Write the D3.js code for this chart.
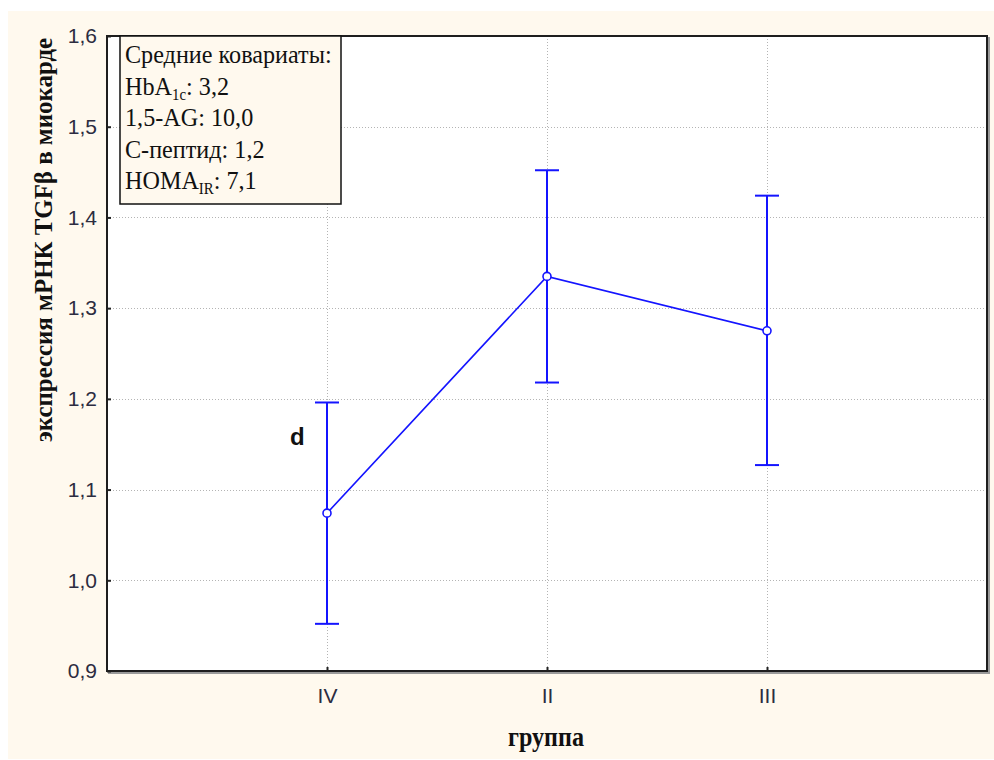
<!DOCTYPE html>
<html>
<head>
<meta charset="utf-8">
<script src="https://cdn.jsdelivr.net/npm/d3@7"></script>
<style>
  html, body { margin: 0; padding: 0; background: #ffffff; }
  svg { display: block; }
</style>
</head>
<body>
<script>
// Group means of TGFβ mRNA expression with confidence intervals
const groups = ["IV", "II", "III"];
const means = [1.074, 1.335, 1.275];
const lower = [0.952, 1.218, 1.127];
const upper = [1.196, 1.452, 1.424];
const yTicks = [0.9, 1.0, 1.1, 1.2, 1.3, 1.4, 1.5, 1.6];
const covariateTitle = "Средние ковариаты:";
const covariates = [
  { main: "HbA", sub: "1c", rest: ": 3,2" },
  { main: "1,5-AG: 10,0", sub: "", rest: "" },
  { main: "С-пептид: 1,2", sub: "", rest: "" },
  { main: "HOMA", sub: "IR", rest: ": 7,1" }
];

const W = 994, H = 760;
const plot = { left: 107, top: 36, right: 987, bottom: 671 };
const blue = "#1414ff";
const serif = "'Liberation Serif', 'Times New Roman', serif";
const sans = "'Liberation Sans', Arial, sans-serif";

const svg = d3.select("body").append("svg")
  .attr("width", W).attr("height", H);

// cream page area
svg.append("rect").attr("x", 8).attr("y", 11)
  .attr("width", W - 8).attr("height", 748).attr("fill", "#fff9ee");

const x = d3.scalePoint().domain(groups)
  .range([plot.left, plot.right]).padding(1);
const y = d3.scaleLinear().domain([0.9, 1.6])
  .range([plot.bottom, plot.top]);

// plot frame shadow + white panel
svg.append("rect")
  .attr("x", plot.left + 2).attr("y", plot.top + 2)
  .attr("width", plot.right - plot.left).attr("height", plot.bottom - plot.top)
  .attr("fill", "none").attr("stroke", "#9a9a9a").attr("stroke-width", 2);
svg.append("rect")
  .attr("x", plot.left).attr("y", plot.top)
  .attr("width", plot.right - plot.left).attr("height", plot.bottom - plot.top)
  .attr("fill", "#ffffff");

// dotted grid
const grid = svg.append("g").attr("stroke", "#b4b4b4")
  .attr("stroke-width", 1).attr("stroke-dasharray", "1,2");
grid.selectAll("line.h").data(yTicks.slice(1, -1)).join("line")
  .attr("x1", plot.left).attr("x2", plot.right)
  .attr("y1", d => Math.round(y(d)) + 0.5).attr("y2", d => Math.round(y(d)) + 0.5);
grid.selectAll("line.v").data(groups).join("line")
  .attr("y1", plot.top).attr("y2", plot.bottom)
  .attr("x1", d => Math.round(x(d)) + 0.5).attr("x2", d => Math.round(x(d)) + 0.5);

// axes with inward ticks
const yAxis = d3.axisLeft(y).tickValues(yTicks)
  .tickFormat(d => d3.format(".1f")(d).replace(".", ","))
  .tickSizeInner(-4).tickSizeOuter(0).tickPadding(10);
const gy = svg.append("g").attr("transform", `translate(${plot.left},0)`).call(yAxis);
const xAxis = d3.axisBottom(x).tickSizeInner(-4).tickSizeOuter(0).tickPadding(17);
const gx = svg.append("g").attr("transform", `translate(0,${plot.bottom})`).call(xAxis);
[gy, gx].forEach(g => {
  g.select(".domain").remove();
  g.selectAll(".tick line").attr("stroke", "#222").attr("stroke-width", 2);
  g.selectAll(".tick text")
    .attr("font-family", sans)
    .attr("font-size", 21).attr("fill", "#2c2c40");
});

// frame
svg.append("rect")
  .attr("x", plot.left).attr("y", plot.top)
  .attr("width", plot.right - plot.left).attr("height", plot.bottom - plot.top)
  .attr("fill", "none").attr("stroke", "#1e1e1e").attr("stroke-width", 2);

// connecting line
const pts = groups.map((g, i) => [x(g), y(means[i])]);
svg.append("path").attr("d", d3.line()(pts))
  .attr("fill", "none").attr("stroke", blue).attr("stroke-width", 1.6);

// error bars
const eb = svg.append("g").attr("stroke", blue).attr("stroke-width", 2);
groups.forEach((g, i) => {
  const cx = x(g);
  eb.append("line").attr("x1", cx).attr("x2", cx)
    .attr("y1", y(lower[i])).attr("y2", y(upper[i]));
  [lower[i], upper[i]].forEach(v => {
    eb.append("line").attr("x1", cx - 12).attr("x2", cx + 12)
      .attr("y1", y(v)).attr("y2", y(v));
  });
});

// mean markers
svg.selectAll("circle.m").data(groups).join("circle")
  .attr("cx", d => x(d)).attr("cy", (d, i) => y(means[i]))
  .attr("r", 4).attr("fill", "#ffffff").attr("stroke", blue).attr("stroke-width", 1.6);

// significance letter
svg.append("text").attr("x", x("IV") - 37).attr("y", 445)
  .attr("font-family", sans)
  .attr("font-weight", "bold").attr("font-size", 24).attr("fill", "#111")
  .text("d");

// covariate box
const box = svg.append("g");
box.append("rect").attr("x", 120).attr("y", 36).attr("width", 221).attr("height", 168)
  .attr("fill", "#fff9ee").attr("stroke", "#111").attr("stroke-width", 1.5);
const boxText = box.append("g").attr("transform", "translate(125,0) scale(0.93,1)");
boxText.append("text").attr("x", 0).attr("y", 63)
  .attr("font-family", serif).attr("font-size", 26).attr("fill", "#111")
  .text(covariateTitle);
covariates.forEach((c, i) => {
  const t = boxText.append("text").attr("x", 0).attr("y", 95 + i * 31.3)
    .attr("font-family", serif).attr("font-size", 26).attr("fill", "#111");
  t.append("tspan").text(c.main);
  if (c.sub) {
    t.append("tspan").attr("font-size", 16).attr("dy", 5).text(c.sub);
    t.append("tspan").attr("dy", -5).text(c.rest);
  }
});

// axis titles
svg.append("text")
  .attr("transform", `translate(52,240) rotate(-90)`)
  .attr("text-anchor", "middle")
  .attr("font-family", serif).attr("font-weight", "bold").attr("font-size", 26).attr("fill", "#111")
  .attr("textLength", 404).attr("lengthAdjust", "spacingAndGlyphs")
  .text("экспрессия мРНК TGFβ в миокарде");
svg.append("text")
  .attr("x", 546).attr("y", 746)
  .attr("text-anchor", "middle")
  .attr("font-family", serif).attr("font-weight", "bold").attr("font-size", 27).attr("fill", "#111")
  .attr("textLength", 76).attr("lengthAdjust", "spacingAndGlyphs")
  .text("группа");
</script>
</body>
</html>
